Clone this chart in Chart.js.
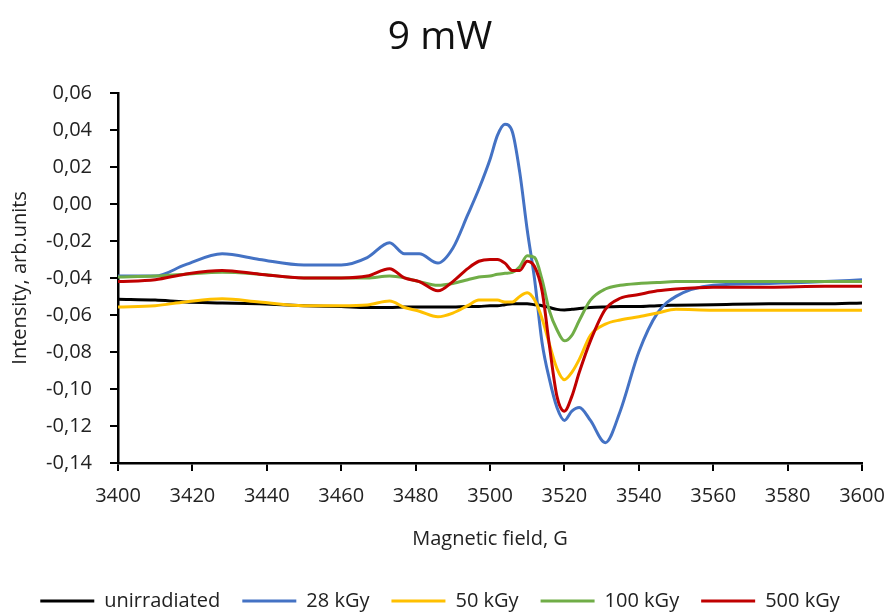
<!DOCTYPE html>
<html>
<head>
<meta charset="utf-8">
<script src="https://cdn.jsdelivr.net/npm/chart.js@4.4.1/dist/chart.umd.min.js"></script>
<style>
  html, body { margin: 0; padding: 0; background: #fff; }
  #wrap { width: 893px; height: 612px; }
</style>
</head>
<body>
<div id="wrap"><canvas id="c" width="893" height="612"></canvas></div>
<script>
// magnetic field points (G) shared by all series
const fields = [3400, 3410, 3418, 3428, 3438, 3450, 3460, 3467, 3473, 3477, 3481, 3486, 3490, 3494,
  3497, 3500, 3502, 3504, 3506, 3508, 3510, 3512, 3514, 3516, 3518, 3520, 3522, 3524, 3527, 3531,
  3535, 3540, 3545, 3550, 3560, 3575, 3590, 3600];

const unirradiated = [-0.0515, -0.052, -0.053, -0.0535, -0.054, -0.055, -0.0555, -0.056, -0.056, -0.0557,
  -0.0557, -0.0557, -0.0557, -0.0555, -0.0555, -0.055, -0.055, -0.0545, -0.054, -0.054, -0.054, -0.0545,
  -0.055, -0.056, -0.057, -0.0573, -0.057, -0.0565, -0.056, -0.0557, -0.0555, -0.0555, -0.055, -0.0548,
  -0.0545, -0.054, -0.054, -0.0535];

const kGy28 = [-0.039, -0.039, -0.033, -0.027, -0.030, -0.033, -0.033, -0.029, -0.021, -0.027,
  -0.027, -0.032, -0.024, -0.006, 0.008, 0.024, 0.037, 0.043, 0.039, 0.017, -0.014, -0.041,
  -0.075, -0.095, -0.110, -0.117, -0.112, -0.110, -0.117, -0.129, -0.112, -0.080, -0.059, -0.050,
  -0.044, -0.043, -0.042, -0.041];

const kGy50 = [-0.0557, -0.055, -0.053, -0.0513, -0.053, -0.055, -0.055, -0.0546, -0.0525, -0.056,
  -0.058, -0.061, -0.059, -0.055, -0.052, -0.052, -0.052, -0.053, -0.053, -0.050, -0.048, -0.052,
  -0.062, -0.076, -0.089, -0.095, -0.091, -0.084, -0.071, -0.065, -0.0627, -0.061, -0.059, -0.057,
  -0.0575, -0.0575, -0.0575, -0.0575];

const kGy100 = [-0.0395, -0.039, -0.038, -0.037, -0.038, -0.040, -0.040, -0.040, -0.039, -0.040,
  -0.042, -0.044, -0.043, -0.041, -0.0395, -0.039, -0.038, -0.0375, -0.037, -0.034, -0.028, -0.029,
  -0.041, -0.058, -0.068, -0.074, -0.071, -0.063, -0.052, -0.046, -0.044, -0.043, -0.0425, -0.042,
  -0.042, -0.042, -0.042, -0.042];

const kGy500 = [-0.042, -0.041, -0.038, -0.036, -0.038, -0.040, -0.040, -0.039, -0.035, -0.040,
  -0.042, -0.047, -0.042, -0.035, -0.031, -0.030, -0.030, -0.032, -0.036, -0.036, -0.031, -0.034,
  -0.047, -0.077, -0.104, -0.112, -0.104, -0.091, -0.074, -0.057, -0.051, -0.049, -0.047, -0.046,
  -0.045, -0.045, -0.0445, -0.0445];

const seriesNames = ["unirradiated", "28 kGy", "50 kGy", "100 kGy", "500 kGy"];
const seriesValues = [unirradiated, kGy28, kGy50, kGy100, kGy500];
const seriesColors = ["#000000", "#4472C4", "#FFC000", "#70AD47", "#C00000"];

const FONT = "'Open Sans', 'Noto Sans', sans-serif";

const datasets = seriesNames.map((name, i) => ({
  label: name,
  data: fields.map((f, j) => ({ x: f, y: seriesValues[i][j] })),
  borderColor: seriesColors[i],
  backgroundColor: seriesColors[i],
  borderWidth: 3,
  pointRadius: 0,
  fill: false,
  cubicInterpolationMode: 'monotone',
  order: seriesNames.length - i   // last series drawn on top, like Excel
}));

function fmt(v) {
  if (Math.abs(v) < 1e-9) return "0,00";
  return v.toFixed(2).replace('.', ',');
}

new Chart(document.getElementById("c").getContext("2d"), {
  type: 'line',
  data: { datasets },
  options: {
    responsive: false,
    animation: false,
    layout: { padding: { left: 18, right: 31, top: 0, bottom: -9 } },
    scales: {
      x: {
        type: 'linear',
        min: 3400,
        max: 3600,
        border: { display: true, color: '#000', width: 2.5 },
        grid: { display: true, drawOnChartArea: false, drawTicks: true, tickLength: 8, color: '#000', lineWidth: 2 },
        ticks: { stepSize: 20, padding: 13, color: '#222', font: { family: FONT, size: 20 }, callback: v => String(v) },
        title: { display: true, text: 'Magnetic field, G', color: '#222', font: { family: FONT, size: 20 }, padding: { top: 6, bottom: 18 } },
        afterFit: s => { s.paddingRight = 10; }
      },
      y: {
        min: -0.14,
        max: 0.06,
        border: { display: true, color: '#000', width: 2.5 },
        grid: { display: true, drawOnChartArea: false, drawTicks: true, tickLength: 8, color: '#000', lineWidth: 2 },
        ticks: { stepSize: 0.02, padding: 18, color: '#222', font: { family: FONT, size: 20 }, callback: v => fmt(v) },
        title: { display: true, text: 'Intensity, arb.units', color: '#222', font: { family: FONT, size: 20 }, padding: { top: -10, bottom: 0 } },
        afterFit: s => { s.width = 100; }
      }
    },
    plugins: {
      title: {
        display: true,
        text: '9 mW',
        color: '#111',
        font: { family: FONT, size: 39, weight: 'normal' },
        padding: { top: 14, bottom: 32 }
      },
      legend: {
        position: 'bottom',
        labels: {
          color: '#222',
          font: { family: FONT, size: 20 },
          boxWidth: 54,
          boxHeight: 3,
          padding: 22,
          generateLabels: chart => {
            const items = Chart.defaults.plugins.legend.labels.generateLabels(chart);
            items.forEach(it => { it.lineWidth = 0; });
            return items.sort((a, b) => a.datasetIndex - b.datasetIndex);
          }
        }
      },
      tooltip: { enabled: false }
    }
  }
});
</script>
</body>
</html>
